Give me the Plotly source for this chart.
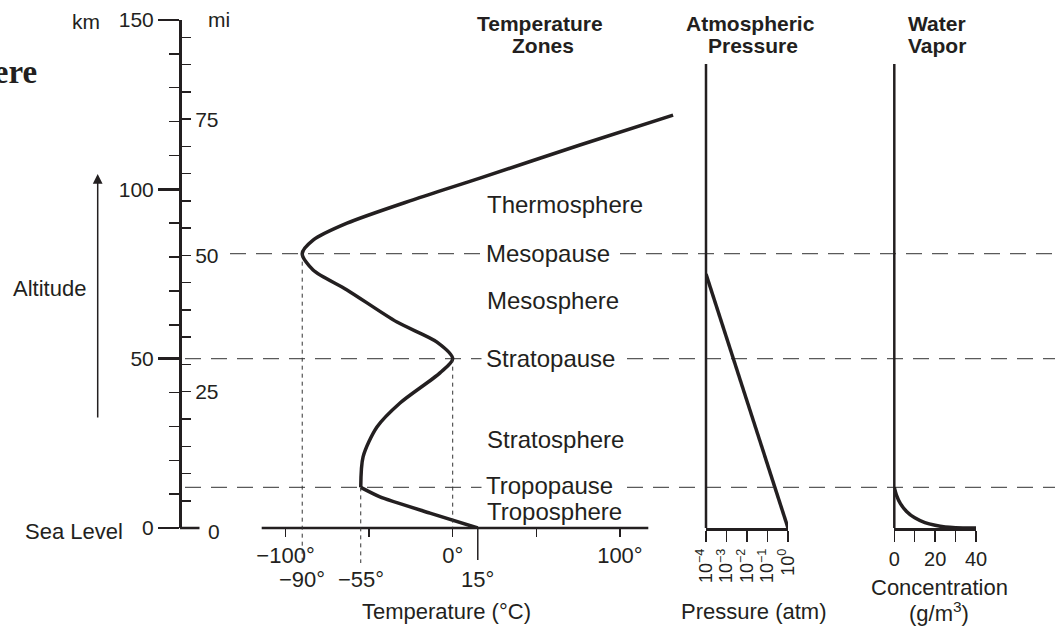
import plotly.graph_objects as go

# ---------------- data ----------------
# temperature profile (altitude km, temperature °C)
temp_alt_km = [0, 4.4, 9.2, 12, 21, 29.8, 36.9, 45.8, 50, 54.9, 60.8, 70.3, 76.2,
               81, 85, 90, 96.9, 103.3, 113.1, 121.9]
temp_c = [15, -13.6, -43.5, -55, -53.6, -45.3, -31.5, -7.6, 0, -9.4, -33.3, -63.2, -83.5,
          -90, -83.5, -63.2, -23.7, 16.3, 76.1, 131.8]

zone_names = ["Thermosphere", "Mesopause", "Mesosphere", "Stratopause",
              "Stratosphere", "Tropopause", "Troposphere"]
zone_label_alt_km = [95.4, 81, 67.3, 50, 26.2, 12.5, 4.8]
pause_names = ["Mesopause", "Stratopause", "Tropopause"]

boundary_names = ["Tropopause", "Stratopause", "Mesopause"]
boundary_alt_km = [12, 50, 81]
boundary_temp_c = [-55, 0, -90]
surface_temp_c = 15

temp_ticks = [-100, -50, 0, 50, 100]
temp_tick_text = ["\u2212100°", "", "0°", "", "100°"]

pressure_alt_km = [0, 75]
pressure_atm = [1, 1e-4]
pressure_ticks = [1e-4, 1e-3, 1e-2, 1e-1, 1]
pressure_tick_text = ["10<sup>\u22124</sup>", "10<sup>\u22123</sup>", "10<sup>\u22122</sup>",
                      "10<sup>\u22121</sup>", "10<sup>0</sup>"]

vapor_conc = [0, 1, 3, 6, 10, 15, 20, 25, 30, 40]
vapor_alt_km = [12, 9.8, 7.2, 4.9, 3.0, 1.6, 0.8, 0.3, 0.1, 0]
vapor_ticks = [0, 10, 20, 30, 40]
vapor_tick_text = ["0", "", "20", "", "40"]

km_ticks = [0, 50, 100, 150]
mi_ticks = [25, 50, 75]
KM_PER_MI = 1.609344
ALT_MAX_KM = 150
PANEL_TOP_KM = 137

# ---------------- layout helpers ----------------
W, H = 1055, 628
INK = "#231f20"
DASH_GRAY = "#5a5a5a"
FONT = "Liberation Sans"


def px(x):
    return x / W


def py(y):
    return 1 - y / H


Y_DOM = [py(528), py(20)]


def km_to_paper(alt):
    return Y_DOM[0] + alt / ALT_MAX_KM * (Y_DOM[1] - Y_DOM[0])


T0_PX, T_SCALE = 452.7, 1.672  # pixel of 0 °C, pixels per °C
temp_range = [(0 - T0_PX) / T_SCALE, (W - T0_PX) / T_SCALE]

fig = go.Figure()

# temperature profile: troposphere and above, sharp corner at tropopause
i_trop = temp_alt_km.index(boundary_alt_km[0])
fig.add_trace(go.Scatter(x=temp_c[:i_trop + 1], y=temp_alt_km[:i_trop + 1], mode="lines",
                         line=dict(color=INK, width=3.5, shape="spline", smoothing=0.6),
                         xaxis="x", yaxis="y", showlegend=False, hoverinfo="skip"))
fig.add_trace(go.Scatter(x=temp_c[i_trop:], y=temp_alt_km[i_trop:], mode="lines",
                         line=dict(color=INK, width=3.5, shape="spline", smoothing=0.8),
                         xaxis="x", yaxis="y", showlegend=False, hoverinfo="skip"))
# pressure
fig.add_trace(go.Scatter(x=pressure_atm, y=pressure_alt_km, mode="lines",
                         line=dict(color=INK, width=3.5),
                         xaxis="x2", yaxis="y", showlegend=False, hoverinfo="skip"))
# water vapor
fig.add_trace(go.Scatter(x=vapor_conc, y=vapor_alt_km, mode="lines",
                         line=dict(color=INK, width=3.5, shape="spline", smoothing=0.8),
                         xaxis="x3", yaxis="y", showlegend=False, hoverinfo="skip"))
# invisible trace to activate miles axis
fig.add_trace(go.Scatter(x=[0], y=[0], mode="markers", marker=dict(opacity=0),
                         xaxis="x", yaxis="y2", showlegend=False, hoverinfo="skip"))

shapes = []
# temperature baseline
shapes.append(dict(type="line", xref="x", yref="paper", x0=(261.7 - T0_PX) / T_SCALE,
                   x1=(648.3 - T0_PX) / T_SCALE, y0=Y_DOM[0], y1=Y_DOM[0],
                   line=dict(color=INK, width=2.5)))
# horizontal dashed boundary lines
dash_start_px = {"Tropopause": 185, "Stratopause": 185, "Mesopause": 230}
for name, alt in zip(boundary_names, boundary_alt_km):
    shapes.append(dict(type="line", xref="paper", yref="y", x0=px(dash_start_px[name]), x1=1,
                       y0=alt, y1=alt, line=dict(color=DASH_GRAY, width=1.3, dash="16px,10px"),
                       layer="below"))
# vertical dotted temperature markers
for name, alt, t in zip(boundary_names, boundary_alt_km, boundary_temp_c):
    bottom = Y_DOM[0] if t == 0 else py(563)
    shapes.append(dict(type="line", xref="x", yref="paper", x0=t, x1=t,
                       y0=km_to_paper(alt), y1=bottom,
                       line=dict(color="#333333", width=1, dash="4px,4px")))
# surface temperature tick
shapes.append(dict(type="line", xref="x", yref="paper", x0=surface_temp_c, x1=surface_temp_c,
                   y0=Y_DOM[0], y1=py(560), line=dict(color=INK, width=1.5)))
# panel frame lines
for xr in ["x2 domain", "x3 domain"]:
    shapes.append(dict(type="line", xref=xr, yref="y", x0=0, x1=0, y0=0, y1=PANEL_TOP_KM,
                       line=dict(color=INK, width=2.5)))
# sea-level extension of altitude axis to the right
shapes.append(dict(type="line", xref="paper", yref="paper", x0=px(180), x1=px(199.5),
                   y0=Y_DOM[0], y1=Y_DOM[0], line=dict(color=INK, width=2.5)))

ann = []


def text(x, y, s, size=22, bold=False, xanchor="center", yanchor="middle", xref="paper",
         yref="paper", family=FONT, **kw):
    if bold:
        s = "<b>" + s + "</b>"
    ann.append(dict(x=x, y=y, xref=xref, yref=yref, text=s, showarrow=False,
                    xanchor=xanchor, yanchor=yanchor,
                    font=dict(family=family, size=size, color=INK), **kw))


# zone labels
for name, alt in zip(zone_names, zone_label_alt_km):
    if name in pause_names:
        text(px(481), alt, name, size=24, xanchor="left", yref="y",
             bgcolor="white", borderpad=4)
    else:
        text(px(485), alt, name, size=24, xanchor="left", yref="y")

# headings
text(px(540), py(24), "Temperature", size=21, bold=True)
text(px(543), py(46), "Zones", size=21, bold=True)
text(px(750), py(24), "Atmospheric", size=21, bold=True)
text(px(753), py(46), "Pressure", size=21, bold=True)
text(px(937), py(24), "Water", size=21, bold=True)
text(px(937), py(46), "Vapor", size=21, bold=True)

# altitude axis texts
text(px(86), py(21), "km", size=21)
text(px(219), py(20), "mi", size=21)
text(px(214), py(531), "0", size=21)
text(px(49), py(289), "Altitude", size=22)
text(px(74), py(531), "Sea Level", size=22)
ann.append(dict(x=px(97.7), y=py(174), xref="paper", yref="paper", ax=0, ay=245,
                axref="pixel", ayref="pixel", showarrow=True, arrowhead=2, arrowsize=1.3,
                arrowwidth=1.5, arrowcolor=INK, text=""))

# temperature special labels
for t in sorted(boundary_temp_c + [surface_temp_c]):
    if t == 0:
        continue
    lab = ("\u2212" if t < 0 else "") + f"{abs(t)}°"
    text(t, py(579), lab, size=22, xref="x")
text(px(446), py(611), "Temperature (°C)", size=22)
text(px(753), py(611), "Pressure (atm)", size=22)
text(px(939), py(587), "Concentration", size=22)
text(px(939), py(612), "(g/m<sup>3</sup>)", size=22)

# cut-off title at top-left (as in the reference)
text(px(39), py(72), "The Atmosphere", size=33, bold=True, xanchor="right",
     family="Liberation Serif")

axis_common = dict(showgrid=False, zeroline=False, ticks="outside", tickcolor=INK,
                   automargin=False, tickfont=dict(family=FONT, size=22, color=INK))

fig.update_layout(
    width=W, height=H, margin=dict(l=0, r=0, t=0, b=0, autoexpand=False),
    paper_bgcolor="white", plot_bgcolor="rgba(0,0,0,0)",
    showlegend=False,
    xaxis=dict(domain=[0, 1], range=temp_range, anchor="y", showline=False,
               tickmode="array", tickvals=temp_ticks, ticktext=temp_tick_text,
               ticklen=8, tickwidth=1.5, **axis_common),
    xaxis2=dict(domain=[px(706), px(788)], type="log", range=[-4, 0], anchor="y",
                showline=True, linecolor=INK, linewidth=2.5,
                tickmode="array", tickvals=pressure_ticks, ticktext=pressure_tick_text,
                ticklen=11, tickwidth=1.5, tickangle=-90,
                **{**axis_common, "tickfont": dict(family=FONT, size=18, color=INK)}),
    xaxis3=dict(domain=[px(894.3), px(976)], range=[0, 40], anchor="y",
                showline=True, linecolor=INK, linewidth=2.5,
                tickmode="array", tickvals=vapor_ticks, ticktext=vapor_tick_text,
                ticklen=11, tickwidth=1.5,
                **{**axis_common, "tickfont": dict(family=FONT, size=20, color=INK)}),
    yaxis=dict(domain=Y_DOM, range=[0, ALT_MAX_KM], anchor="free", position=px(180),
               side="left", showline=True, linecolor=INK, linewidth=2.5,
               tickmode="array", tickvals=km_ticks, ticklen=21, tickwidth=2.5,
               minor=dict(dtick=10, ticklen=10, tickwidth=1.5, ticks="outside",
                          tickcolor=INK),
               **{**axis_common, "tickfont": dict(family=FONT, size=21, color=INK)}),
    yaxis2=dict(overlaying="y", range=[0, ALT_MAX_KM / KM_PER_MI], anchor="free",
                position=px(180), side="right", showline=False,
                tickmode="array", tickvals=mi_ticks, ticklen=10, tickwidth=1.5,
                minor=dict(dtick=5, ticklen=10, tickwidth=1.5, ticks="outside",
                           tickcolor=INK),
                **{**axis_common, "tickfont": dict(family=FONT, size=21, color=INK)}),
    shapes=shapes,
    annotations=ann,
)

fig.write_html("out.html", config={"displayModeBar": False, "staticPlot": True},
               post_script="document.body.style.margin='0';document.body.style.padding='0';")
